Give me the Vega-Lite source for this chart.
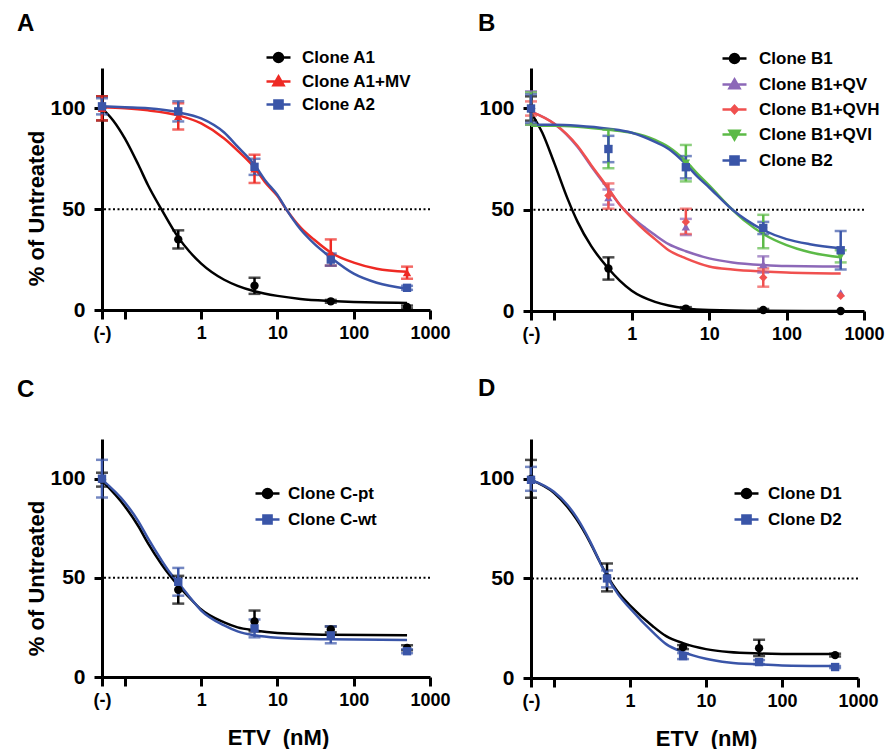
{
  "$schema": "https://vega.github.io/schema/vega-lite/v6.json",
  "background": "white",
  "padding": {"left": 17, "top": 12, "right": 0, "bottom": 0},
  "config": {
    "font": "Liberation Sans",
    "view": {"stroke": null},
    "axis": {"domainColor": "black", "domainWidth": 3, "tickColor": "black", "tickWidth": 3, "labelColor": "black", "labelFontWeight": "bold", "titleFontWeight": "bold", "titleColor": "black", "grid": false, "labelFont": "Liberation Sans", "titleFont": "Liberation Sans"},
    "title": {"font": "Liberation Sans", "fontWeight": "bold", "fontSize": 24, "color": "black", "anchor": "start", "frame": "group"}
  },
  "resolve": {"scale": {"color": "independent", "shape": "independent", "size": "independent", "fill": "independent", "stroke": "independent"}, "legend": {"color": "independent", "shape": "independent", "size": "independent", "fill": "independent", "stroke": "independent"}},
  "datasets": {
    "A_pts": [
      {"series": "Clone A1", "conc": 0.05, "pct": 100, "lo": 94, "hi": 106},
      {"series": "Clone A1", "conc": 0.5, "pct": 35, "lo": 30.5, "hi": 39.5},
      {"series": "Clone A1", "conc": 5, "pct": 12, "lo": 8, "hi": 16},
      {"series": "Clone A1", "conc": 50, "pct": 4.3, "lo": 3.6, "hi": 5},
      {"series": "Clone A1", "conc": 500, "pct": 1.5, "lo": 0.8, "hi": 2.2},
      {"series": "Clone A1+MV", "conc": 0.05, "pct": 100, "lo": 94, "hi": 106},
      {"series": "Clone A1+MV", "conc": 0.5, "pct": 96, "lo": 89.5, "hi": 102.5},
      {"series": "Clone A1+MV", "conc": 5, "pct": 70, "lo": 63, "hi": 77},
      {"series": "Clone A1+MV", "conc": 50, "pct": 28.5, "lo": 22, "hi": 35},
      {"series": "Clone A1+MV", "conc": 500, "pct": 18.5, "lo": 15.5, "hi": 21.5},
      {"series": "Clone A2", "conc": 0.05, "pct": 101, "lo": 97, "hi": 105},
      {"series": "Clone A2", "conc": 0.5, "pct": 98.5, "lo": 93.5, "hi": 103.5},
      {"series": "Clone A2", "conc": 5, "pct": 71, "lo": 67, "hi": 75},
      {"series": "Clone A2", "conc": 50, "pct": 25, "lo": 22, "hi": 28},
      {"series": "Clone A2", "conc": 500, "pct": 11, "lo": 10, "hi": 12}
    ],
    "A_fit": [
      {"series": "Clone A1", "conc": 0.05, "pct": 100},
      {"series": "Clone A1", "conc": 0.07, "pct": 94},
      {"series": "Clone A1", "conc": 0.1, "pct": 85},
      {"series": "Clone A1", "conc": 0.15, "pct": 72},
      {"series": "Clone A1", "conc": 0.2, "pct": 62},
      {"series": "Clone A1", "conc": 0.3, "pct": 50},
      {"series": "Clone A1", "conc": 0.5, "pct": 36},
      {"series": "Clone A1", "conc": 0.7, "pct": 29},
      {"series": "Clone A1", "conc": 1, "pct": 23},
      {"series": "Clone A1", "conc": 2, "pct": 15},
      {"series": "Clone A1", "conc": 3, "pct": 12},
      {"series": "Clone A1", "conc": 5, "pct": 9.3},
      {"series": "Clone A1", "conc": 10, "pct": 7},
      {"series": "Clone A1", "conc": 20, "pct": 5.5},
      {"series": "Clone A1", "conc": 50, "pct": 4.5},
      {"series": "Clone A1", "conc": 100, "pct": 4},
      {"series": "Clone A1", "conc": 200, "pct": 3.7},
      {"series": "Clone A1", "conc": 500, "pct": 3.5},
      {"series": "Clone A1+MV", "conc": 0.05, "pct": 100.5},
      {"series": "Clone A1+MV", "conc": 0.1, "pct": 100},
      {"series": "Clone A1+MV", "conc": 0.2, "pct": 99},
      {"series": "Clone A1+MV", "conc": 0.5, "pct": 96.5},
      {"series": "Clone A1+MV", "conc": 1, "pct": 92.5},
      {"series": "Clone A1+MV", "conc": 2, "pct": 85},
      {"series": "Clone A1+MV", "conc": 3, "pct": 79},
      {"series": "Clone A1+MV", "conc": 5, "pct": 70.5},
      {"series": "Clone A1+MV", "conc": 7, "pct": 63},
      {"series": "Clone A1+MV", "conc": 10, "pct": 56.5},
      {"series": "Clone A1+MV", "conc": 13, "pct": 50},
      {"series": "Clone A1+MV", "conc": 20, "pct": 41},
      {"series": "Clone A1+MV", "conc": 30, "pct": 35},
      {"series": "Clone A1+MV", "conc": 50, "pct": 28.5},
      {"series": "Clone A1+MV", "conc": 100, "pct": 23.5},
      {"series": "Clone A1+MV", "conc": 200, "pct": 20.5},
      {"series": "Clone A1+MV", "conc": 500, "pct": 19},
      {"series": "Clone A2", "conc": 0.05, "pct": 101},
      {"series": "Clone A2", "conc": 0.1, "pct": 100.5},
      {"series": "Clone A2", "conc": 0.2, "pct": 100},
      {"series": "Clone A2", "conc": 0.5, "pct": 98},
      {"series": "Clone A2", "conc": 1, "pct": 95},
      {"series": "Clone A2", "conc": 2, "pct": 88},
      {"series": "Clone A2", "conc": 3, "pct": 81},
      {"series": "Clone A2", "conc": 5, "pct": 72},
      {"series": "Clone A2", "conc": 7, "pct": 64},
      {"series": "Clone A2", "conc": 10, "pct": 57},
      {"series": "Clone A2", "conc": 13, "pct": 50},
      {"series": "Clone A2", "conc": 20, "pct": 40},
      {"series": "Clone A2", "conc": 30, "pct": 33},
      {"series": "Clone A2", "conc": 50, "pct": 26},
      {"series": "Clone A2", "conc": 100, "pct": 18},
      {"series": "Clone A2", "conc": 200, "pct": 13.5},
      {"series": "Clone A2", "conc": 500, "pct": 10.5}
    ],
    "B_pts": [
      {"series": "Clone B1", "conc": 0.05, "pct": 100, "lo": 94, "hi": 106},
      {"series": "Clone B1", "conc": 0.5, "pct": 21, "lo": 15.5, "hi": 26.5},
      {"series": "Clone B1", "conc": 5, "pct": 1.2, "lo": 0.5, "hi": 1.9},
      {"series": "Clone B1", "conc": 50, "pct": 0.5, "lo": 0, "hi": 1},
      {"series": "Clone B1", "conc": 500, "pct": 0, "lo": null, "hi": null},
      {"series": "Clone B1+QV", "conc": 0.05, "pct": 100, "lo": 92, "hi": 108.5},
      {"series": "Clone B1+QV", "conc": 0.5, "pct": 56, "lo": 52.5, "hi": 60},
      {"series": "Clone B1+QV", "conc": 5, "pct": 41.5, "lo": 37.5, "hi": 45.5},
      {"series": "Clone B1+QV", "conc": 50, "pct": 23, "lo": 19, "hi": 27},
      {"series": "Clone B1+QV", "conc": 500, "pct": 9, "lo": null, "hi": null},
      {"series": "Clone B1+QVH", "conc": 0.05, "pct": 100, "lo": 96.5, "hi": 103.5},
      {"series": "Clone B1+QVH", "conc": 0.5, "pct": 57, "lo": 50.5, "hi": 63},
      {"series": "Clone B1+QVH", "conc": 5, "pct": 44, "lo": 38, "hi": 50.5},
      {"series": "Clone B1+QVH", "conc": 50, "pct": 16.5, "lo": 12, "hi": 21},
      {"series": "Clone B1+QVH", "conc": 500, "pct": 7.5, "lo": null, "hi": null},
      {"series": "Clone B1+QVI", "conc": 0.05, "pct": 100, "lo": 92, "hi": 108},
      {"series": "Clone B1+QVI", "conc": 0.5, "pct": 80, "lo": 70.5, "hi": 89.5},
      {"series": "Clone B1+QVI", "conc": 5, "pct": 73, "lo": 64, "hi": 82},
      {"series": "Clone B1+QVI", "conc": 50, "pct": 39.5, "lo": 31, "hi": 47.5},
      {"series": "Clone B1+QVI", "conc": 500, "pct": 27, "lo": 24, "hi": 30},
      {"series": "Clone B2", "conc": 0.05, "pct": 100, "lo": 93, "hi": 107},
      {"series": "Clone B2", "conc": 0.5, "pct": 80, "lo": 73.5, "hi": 86.5},
      {"series": "Clone B2", "conc": 5, "pct": 71, "lo": 65.5, "hi": 76.5},
      {"series": "Clone B2", "conc": 50, "pct": 41, "lo": 38, "hi": 44},
      {"series": "Clone B2", "conc": 500, "pct": 30, "lo": 20.5, "hi": 39.5}
    ],
    "B_fit": [
      {"series": "Clone B1", "conc": 0.05, "pct": 98},
      {"series": "Clone B1", "conc": 0.07, "pct": 88},
      {"series": "Clone B1", "conc": 0.1, "pct": 73},
      {"series": "Clone B1", "conc": 0.15, "pct": 55},
      {"series": "Clone B1", "conc": 0.2, "pct": 44},
      {"series": "Clone B1", "conc": 0.3, "pct": 32},
      {"series": "Clone B1", "conc": 0.5, "pct": 21},
      {"series": "Clone B1", "conc": 0.7, "pct": 15},
      {"series": "Clone B1", "conc": 1, "pct": 10},
      {"series": "Clone B1", "conc": 2, "pct": 4.5},
      {"series": "Clone B1", "conc": 3, "pct": 2.7},
      {"series": "Clone B1", "conc": 5, "pct": 1.3},
      {"series": "Clone B1", "conc": 10, "pct": 0.5},
      {"series": "Clone B1", "conc": 50, "pct": 0.1},
      {"series": "Clone B1", "conc": 500, "pct": 0},
      {"series": "Clone B1+QV", "conc": 0.05, "pct": 98.5},
      {"series": "Clone B1+QV", "conc": 0.1, "pct": 92.5},
      {"series": "Clone B1+QV", "conc": 0.2, "pct": 81},
      {"series": "Clone B1+QV", "conc": 0.3, "pct": 71.5},
      {"series": "Clone B1+QV", "conc": 0.5, "pct": 60},
      {"series": "Clone B1+QV", "conc": 0.7, "pct": 52.5},
      {"series": "Clone B1+QV", "conc": 1, "pct": 46.5},
      {"series": "Clone B1+QV", "conc": 1.5, "pct": 41},
      {"series": "Clone B1+QV", "conc": 2, "pct": 37.5},
      {"series": "Clone B1+QV", "conc": 3, "pct": 33},
      {"series": "Clone B1+QV", "conc": 5, "pct": 29.5},
      {"series": "Clone B1+QV", "conc": 10, "pct": 26},
      {"series": "Clone B1+QV", "conc": 20, "pct": 24},
      {"series": "Clone B1+QV", "conc": 50, "pct": 22.7},
      {"series": "Clone B1+QV", "conc": 100, "pct": 22.2},
      {"series": "Clone B1+QV", "conc": 500, "pct": 22},
      {"series": "Clone B1+QVH", "conc": 0.05, "pct": 98.5},
      {"series": "Clone B1+QVH", "conc": 0.1, "pct": 92.5},
      {"series": "Clone B1+QVH", "conc": 0.2, "pct": 81.5},
      {"series": "Clone B1+QVH", "conc": 0.3, "pct": 72},
      {"series": "Clone B1+QVH", "conc": 0.5, "pct": 60.5},
      {"series": "Clone B1+QVH", "conc": 0.7, "pct": 52.5},
      {"series": "Clone B1+QVH", "conc": 1, "pct": 46},
      {"series": "Clone B1+QVH", "conc": 1.5, "pct": 39.5},
      {"series": "Clone B1+QVH", "conc": 2, "pct": 35.5},
      {"series": "Clone B1+QVH", "conc": 3, "pct": 30},
      {"series": "Clone B1+QVH", "conc": 5, "pct": 26},
      {"series": "Clone B1+QVH", "conc": 10, "pct": 22},
      {"series": "Clone B1+QVH", "conc": 20, "pct": 20.5},
      {"series": "Clone B1+QVH", "conc": 50, "pct": 19.5},
      {"series": "Clone B1+QVH", "conc": 100, "pct": 19},
      {"series": "Clone B1+QVH", "conc": 500, "pct": 18.5},
      {"series": "Clone B1+QVI", "conc": 0.05, "pct": 91.5},
      {"series": "Clone B1+QVI", "conc": 0.1, "pct": 91.5},
      {"series": "Clone B1+QVI", "conc": 0.2, "pct": 91},
      {"series": "Clone B1+QVI", "conc": 0.5, "pct": 89.5},
      {"series": "Clone B1+QVI", "conc": 1, "pct": 88},
      {"series": "Clone B1+QVI", "conc": 2, "pct": 84.5},
      {"series": "Clone B1+QVI", "conc": 3, "pct": 81},
      {"series": "Clone B1+QVI", "conc": 5, "pct": 74},
      {"series": "Clone B1+QVI", "conc": 7, "pct": 68},
      {"series": "Clone B1+QVI", "conc": 10, "pct": 62},
      {"series": "Clone B1+QVI", "conc": 20, "pct": 50},
      {"series": "Clone B1+QVI", "conc": 30, "pct": 44},
      {"series": "Clone B1+QVI", "conc": 50, "pct": 38},
      {"series": "Clone B1+QVI", "conc": 100, "pct": 32.5},
      {"series": "Clone B1+QVI", "conc": 200, "pct": 29},
      {"series": "Clone B1+QVI", "conc": 500, "pct": 26.5},
      {"series": "Clone B2", "conc": 0.05, "pct": 92},
      {"series": "Clone B2", "conc": 0.1, "pct": 92},
      {"series": "Clone B2", "conc": 0.2, "pct": 91.5},
      {"series": "Clone B2", "conc": 0.5, "pct": 90},
      {"series": "Clone B2", "conc": 1, "pct": 88},
      {"series": "Clone B2", "conc": 2, "pct": 83.5},
      {"series": "Clone B2", "conc": 3, "pct": 80},
      {"series": "Clone B2", "conc": 5, "pct": 72.5},
      {"series": "Clone B2", "conc": 7, "pct": 66.5},
      {"series": "Clone B2", "conc": 10, "pct": 61},
      {"series": "Clone B2", "conc": 20, "pct": 50},
      {"series": "Clone B2", "conc": 30, "pct": 45},
      {"series": "Clone B2", "conc": 50, "pct": 40},
      {"series": "Clone B2", "conc": 100, "pct": 35.5},
      {"series": "Clone B2", "conc": 200, "pct": 33},
      {"series": "Clone B2", "conc": 500, "pct": 31}
    ],
    "C_pts": [
      {"series": "Clone C-pt", "conc": 0.05, "pct": 99.5, "lo": 96, "hi": 103},
      {"series": "Clone C-pt", "conc": 0.5, "pct": 44, "lo": 37, "hi": 51},
      {"series": "Clone C-pt", "conc": 5, "pct": 28, "lo": 23, "hi": 33.5},
      {"series": "Clone C-pt", "conc": 50, "pct": 24, "lo": 22.5, "hi": 25.5},
      {"series": "Clone C-pt", "conc": 500, "pct": 14.7, "lo": 13.5, "hi": 16},
      {"series": "Clone C-wt", "conc": 0.05, "pct": 100, "lo": 90.5, "hi": 109.5},
      {"series": "Clone C-wt", "conc": 0.5, "pct": 48, "lo": 41, "hi": 55},
      {"series": "Clone C-wt", "conc": 5, "pct": 24.5, "lo": 20, "hi": 29},
      {"series": "Clone C-wt", "conc": 50, "pct": 21, "lo": 17, "hi": 25.5},
      {"series": "Clone C-wt", "conc": 500, "pct": 13, "lo": 12, "hi": 14}
    ],
    "C_fit": [
      {"series": "Clone C-pt", "conc": 0.05, "pct": 99},
      {"series": "Clone C-pt", "conc": 0.1, "pct": 86},
      {"series": "Clone C-pt", "conc": 0.15, "pct": 76},
      {"series": "Clone C-pt", "conc": 0.2, "pct": 67.5},
      {"series": "Clone C-pt", "conc": 0.3, "pct": 57},
      {"series": "Clone C-pt", "conc": 0.4, "pct": 50.5},
      {"series": "Clone C-pt", "conc": 0.5, "pct": 46},
      {"series": "Clone C-pt", "conc": 0.7, "pct": 40},
      {"series": "Clone C-pt", "conc": 1, "pct": 34},
      {"series": "Clone C-pt", "conc": 2, "pct": 27.5},
      {"series": "Clone C-pt", "conc": 3, "pct": 25},
      {"series": "Clone C-pt", "conc": 5, "pct": 23.5},
      {"series": "Clone C-pt", "conc": 10, "pct": 22.2},
      {"series": "Clone C-pt", "conc": 50, "pct": 21.3},
      {"series": "Clone C-pt", "conc": 500, "pct": 21},
      {"series": "Clone C-wt", "conc": 0.05, "pct": 99.5},
      {"series": "Clone C-wt", "conc": 0.1, "pct": 88},
      {"series": "Clone C-wt", "conc": 0.15, "pct": 78.5},
      {"series": "Clone C-wt", "conc": 0.2, "pct": 70},
      {"series": "Clone C-wt", "conc": 0.3, "pct": 59},
      {"series": "Clone C-wt", "conc": 0.4, "pct": 52},
      {"series": "Clone C-wt", "conc": 0.5, "pct": 47.5},
      {"series": "Clone C-wt", "conc": 0.7, "pct": 40.5},
      {"series": "Clone C-wt", "conc": 1, "pct": 33.5},
      {"series": "Clone C-wt", "conc": 2, "pct": 26},
      {"series": "Clone C-wt", "conc": 3, "pct": 23},
      {"series": "Clone C-wt", "conc": 5, "pct": 21},
      {"series": "Clone C-wt", "conc": 10, "pct": 19.8},
      {"series": "Clone C-wt", "conc": 50, "pct": 19},
      {"series": "Clone C-wt", "conc": 500, "pct": 18.7}
    ],
    "D_pts": [
      {"series": "Clone D1", "conc": 0.05, "pct": 100, "lo": 90.5, "hi": 109.5},
      {"series": "Clone D1", "conc": 0.5, "pct": 50.5, "lo": 43.5, "hi": 57.5},
      {"series": "Clone D1", "conc": 5, "pct": 15.5, "lo": 14.5, "hi": 16.5},
      {"series": "Clone D1", "conc": 50, "pct": 15, "lo": 11, "hi": 19.2},
      {"series": "Clone D1", "conc": 500, "pct": 11.5, "lo": 10.8, "hi": 12.2},
      {"series": "Clone D2", "conc": 0.05, "pct": 99.5, "lo": 94, "hi": 106},
      {"series": "Clone D2", "conc": 0.5, "pct": 50, "lo": 45.5, "hi": 54},
      {"series": "Clone D2", "conc": 5, "pct": 11, "lo": 9.5, "hi": 12.5},
      {"series": "Clone D2", "conc": 50, "pct": 8, "lo": 7, "hi": 9},
      {"series": "Clone D2", "conc": 500, "pct": 5.5, "lo": 5, "hi": 6}
    ],
    "D_fit": [
      {"series": "Clone D1", "conc": 0.05, "pct": 99.5},
      {"series": "Clone D1", "conc": 0.1, "pct": 93},
      {"series": "Clone D1", "conc": 0.15, "pct": 86},
      {"series": "Clone D1", "conc": 0.2, "pct": 79.5},
      {"series": "Clone D1", "conc": 0.3, "pct": 68},
      {"series": "Clone D1", "conc": 0.4, "pct": 58.5},
      {"series": "Clone D1", "conc": 0.5, "pct": 51.5},
      {"series": "Clone D1", "conc": 0.7, "pct": 43},
      {"series": "Clone D1", "conc": 1, "pct": 36.5},
      {"series": "Clone D1", "conc": 2, "pct": 26},
      {"series": "Clone D1", "conc": 3, "pct": 21},
      {"series": "Clone D1", "conc": 5, "pct": 17.5},
      {"series": "Clone D1", "conc": 10, "pct": 14.5},
      {"series": "Clone D1", "conc": 20, "pct": 13},
      {"series": "Clone D1", "conc": 50, "pct": 12.3},
      {"series": "Clone D1", "conc": 100, "pct": 12.1},
      {"series": "Clone D1", "conc": 500, "pct": 12},
      {"series": "Clone D2", "conc": 0.05, "pct": 99.5},
      {"series": "Clone D2", "conc": 0.1, "pct": 93.5},
      {"series": "Clone D2", "conc": 0.15, "pct": 87},
      {"series": "Clone D2", "conc": 0.2, "pct": 80.5},
      {"series": "Clone D2", "conc": 0.3, "pct": 68.5},
      {"series": "Clone D2", "conc": 0.4, "pct": 58.5},
      {"series": "Clone D2", "conc": 0.5, "pct": 51},
      {"series": "Clone D2", "conc": 0.7, "pct": 42},
      {"series": "Clone D2", "conc": 1, "pct": 35},
      {"series": "Clone D2", "conc": 2, "pct": 23},
      {"series": "Clone D2", "conc": 3, "pct": 17},
      {"series": "Clone D2", "conc": 5, "pct": 13},
      {"series": "Clone D2", "conc": 10, "pct": 9.7},
      {"series": "Clone D2", "conc": 20, "pct": 7.8},
      {"series": "Clone D2", "conc": 50, "pct": 6.8},
      {"series": "Clone D2", "conc": 100, "pct": 6.3},
      {"series": "Clone D2", "conc": 500, "pct": 6}
    ]
  },
  "columns": 2,
  "bounds": "flush",
  "spacing": {"row": 128, "column": 101},
  "concat": [
    {
      "width": 328, "height": 242,
      "title": {"text": "A", "dx": -85, "offset": 8},
      "resolve": {"scale": {"shape": "independent", "fill": "independent", "stroke": "independent"}},
      "layer": [
        {"data": {"values": [{}]}, "mark": {"type": "rule", "strokeDash": [2, 2.5], "strokeWidth": 2, "color": "black"},
         "encoding": {"y": {"datum": 50, "type": "quantitative", "title": "% of Untreated", "scale": {"domain": [0, 120], "nice": false}, "axis": {"values": [0, 50, 100], "labelFontSize": 21, "tickSize": 8, "labelPadding": 9, "title": "% of Untreated", "titleFontSize": 22, "titleX": -66, "titleY": 140, "titleBaseline": "middle", "titleAlign": "center", "titleAngle": -90}}}},
        {"data": {"name": "A_fit"}, "mark": {"type": "line", "interpolate": "monotone", "strokeWidth": 2.5},
         "encoding": {
           "x": {"field": "conc", "type": "quantitative", "scale": {"type": "log", "domain": [0.05, 1000], "nice": false}, "axis": {"values": [0.05, 0.1, 1, 10, 100, 1000], "labelExpr": "datum.value < 0.07 ? '(-)' : datum.value < 0.5 ? '' : format(datum.value, 'd')", "labelFontSize": 18, "tickSize": 9, "labelPadding": 5, "labelOverlap": false, "labelFlush": false, "title": null}},
           "y": {"field": "pct", "type": "quantitative", "title": "% of Untreated", "scale": {"domain": [0, 120], "nice": false}, "axis": {"values": [0, 50, 100], "labelFontSize": 21, "tickSize": 8, "labelPadding": 9, "title": "% of Untreated", "titleFontSize": 22, "titleX": -66, "titleY": 140, "titleBaseline": "middle", "titleAlign": "center", "titleAngle": -90}},
           "color": {"field": "series", "type": "nominal", "legend": null, "scale": {"domain": ["Clone A1", "Clone A1+MV", "Clone A2"], "range": ["#000000", "#ee2a24", "#3a55a8"]}}
         }},
        {"data": {"name": "A_pts"}, "mark": {"type": "errorbar", "thickness": 2.5, "ticks": {"size": 12, "thickness": 2.5}},
         "encoding": {
           "x": {"field": "conc", "type": "quantitative"},
           "y": {"field": "lo", "type": "quantitative", "title": "% of Untreated"},
           "y2": {"field": "hi"},
           "color": {"field": "series", "type": "nominal", "legend": null}
         }},
        {"data": {"name": "A_pts"}, "mark": {"type": "point", "filled": true, "size": 70, "opacity": 1},
         "encoding": {
           "x": {"field": "conc", "type": "quantitative"},
           "y": {"field": "pct", "type": "quantitative", "title": "% of Untreated"},
           "color": {"field": "series", "type": "nominal", "legend": null},
           "shape": {"field": "series", "type": "nominal", "scale": {"domain": ["Clone A1", "Clone A1+MV", "Clone A2"], "range": ["circle", "triangle-up", "square"]}, "legend": null}
         }},
        {"data": {"name": "A_pts"}, "mark": {"type": "point", "filled": true, "opacity": 0},
         "encoding": {
           "x": {"field": "conc", "type": "quantitative"},
           "y": {"field": "pct", "type": "quantitative", "title": "% of Untreated"},
           "shape": {"field": "series", "type": "nominal", "scale": {"domain": ["Clone A1", "Clone A1+MV", "Clone A2"], "range": ["M-1,0H1M-0.38,0A0.38,0.38,0,1,1,0.38,0A0.38,0.38,0,1,1,-0.38,0Z", "M-1,0H1M0,-0.42L0.42,0.32L-0.42,0.32Z", "M-1,0H1M-0.34,-0.34H0.34V0.34H-0.34Z"]}, "legend": {"title": null, "orient": "none", "legendX": 163, "legendY": -24, "symbolSize": 576, "labelFontSize": 17, "labelFont": "Liberation Sans", "labelFontWeight": "bold", "labelColor": "black", "labelOffset": 10, "rowPadding": 0, "padding": 0, "labelLimit": 0, "symbolStrokeWidth": 2.5, "symbolOpacity": 1}},
           "fill": {"field": "series", "type": "nominal", "scale": {"domain": ["Clone A1", "Clone A1+MV", "Clone A2"], "range": ["#000000", "#ee2a24", "#3a55a8"]}, "legend": {"title": null, "orient": "none", "legendX": 163, "legendY": -24, "symbolSize": 576, "labelFontSize": 17, "labelFont": "Liberation Sans", "labelFontWeight": "bold", "labelColor": "black", "labelOffset": 10, "rowPadding": 0, "padding": 0, "labelLimit": 0, "symbolStrokeWidth": 2.5, "symbolOpacity": 1}},
           "stroke": {"field": "series", "type": "nominal", "scale": {"domain": ["Clone A1", "Clone A1+MV", "Clone A2"], "range": ["#000000", "#ee2a24", "#3a55a8"]}, "legend": {"title": null, "orient": "none", "legendX": 163, "legendY": -24, "symbolSize": 576, "labelFontSize": 17, "labelFont": "Liberation Sans", "labelFontWeight": "bold", "labelColor": "black", "labelOffset": 10, "rowPadding": 0, "padding": 0, "labelLimit": 0, "symbolStrokeWidth": 2.5, "symbolOpacity": 1}}
         }}
      ]
    },
    {
      "width": 333, "height": 243,
      "title": {"text": "B", "dx": -53, "offset": 9},
      "resolve": {"scale": {"shape": "independent", "fill": "independent", "stroke": "independent"}},
      "layer": [
        {"data": {"values": [{}]}, "mark": {"type": "rule", "strokeDash": [2, 2.5], "strokeWidth": 2, "color": "black"},
         "encoding": {"y": {"datum": 50, "type": "quantitative", "scale": {"domain": [0, 120], "nice": false}, "axis": {"values": [0, 50, 100], "labelFontSize": 21, "tickSize": 8, "labelPadding": 9, "title": null}}}},
        {"data": {"name": "B_fit"}, "mark": {"type": "line", "interpolate": "monotone", "strokeWidth": 2.5},
         "encoding": {
           "x": {"field": "conc", "type": "quantitative", "scale": {"type": "log", "domain": [0.05, 1000], "nice": false}, "axis": {"values": [0.05, 0.1, 1, 10, 100, 1000], "labelExpr": "datum.value < 0.07 ? '(-)' : datum.value < 0.5 ? '' : format(datum.value, 'd')", "labelFontSize": 18, "tickSize": 9, "labelPadding": 5, "labelOverlap": false, "labelFlush": false, "title": null}},
           "y": {"field": "pct", "type": "quantitative", "scale": {"domain": [0, 120], "nice": false}, "axis": {"values": [0, 50, 100], "labelFontSize": 21, "tickSize": 8, "labelPadding": 9, "title": null}},
           "color": {"field": "series", "type": "nominal", "legend": null, "scale": {"domain": ["Clone B1", "Clone B1+QV", "Clone B1+QVH", "Clone B1+QVI", "Clone B2"], "range": ["#000000", "#8c68b8", "#f0504f", "#5cba47", "#3a55a8"]}}
         }},
        {"data": {"name": "B_pts"}, "mark": {"type": "errorbar", "thickness": 2.5, "ticks": {"size": 12, "thickness": 2.5}},
         "encoding": {
           "x": {"field": "conc", "type": "quantitative"},
           "y": {"field": "lo", "type": "quantitative"},
           "y2": {"field": "hi"},
           "color": {"field": "series", "type": "nominal", "legend": null}
         }},
        {"data": {"name": "B_pts"}, "mark": {"type": "point", "filled": true, "opacity": 1},
         "encoding": {
           "x": {"field": "conc", "type": "quantitative"},
           "y": {"field": "pct", "type": "quantitative"},
           "size": {"field": "series", "type": "nominal", "scale": {"domain": ["Clone B1", "Clone B1+QV", "Clone B1+QVH", "Clone B1+QVI", "Clone B2"], "range": [70, 70, 40, 70, 70]}, "legend": null},
           "color": {"field": "series", "type": "nominal", "legend": null},
           "shape": {"field": "series", "type": "nominal", "scale": {"domain": ["Clone B1", "Clone B1+QV", "Clone B1+QVH", "Clone B1+QVI", "Clone B2"], "range": ["circle", "triangle-up", "diamond", "triangle-down", "square"]}, "legend": null}
         }},
        {"data": {"name": "B_pts"}, "mark": {"type": "point", "filled": true, "opacity": 0},
         "encoding": {
           "x": {"field": "conc", "type": "quantitative"},
           "y": {"field": "pct", "type": "quantitative"},
           "shape": {"field": "series", "type": "nominal", "scale": {"domain": ["Clone B1", "Clone B1+QV", "Clone B1+QVH", "Clone B1+QVI", "Clone B2"], "range": ["M-1,0H1M-0.38,0A0.38,0.38,0,1,1,0.38,0A0.38,0.38,0,1,1,-0.38,0Z", "M-1,0H1M0,-0.42L0.42,0.32L-0.42,0.32Z", "M-1,0H1M0,-0.3L0.28,0L0,0.3L-0.28,0Z", "M-1,0H1M-0.42,-0.32L0.42,-0.32L0,0.42Z", "M-1,0H1M-0.34,-0.34H0.34V0.34H-0.34Z"]}, "legend": {"title": null, "orient": "none", "legendX": 190, "legendY": -23, "symbolSize": 576, "labelFontSize": 17, "labelFont": "Liberation Sans", "labelFontWeight": "bold", "labelColor": "black", "labelOffset": 11, "rowPadding": 2, "padding": 0, "labelLimit": 0, "symbolStrokeWidth": 2.5, "symbolOpacity": 1}},
           "fill": {"field": "series", "type": "nominal", "scale": {"domain": ["Clone B1", "Clone B1+QV", "Clone B1+QVH", "Clone B1+QVI", "Clone B2"], "range": ["#000000", "#8c68b8", "#f0504f", "#5cba47", "#3a55a8"]}, "legend": {"title": null, "orient": "none", "legendX": 190, "legendY": -23, "symbolSize": 576, "labelFontSize": 17, "labelFont": "Liberation Sans", "labelFontWeight": "bold", "labelColor": "black", "labelOffset": 11, "rowPadding": 2, "padding": 0, "labelLimit": 0, "symbolStrokeWidth": 2.5, "symbolOpacity": 1}},
           "stroke": {"field": "series", "type": "nominal", "scale": {"domain": ["Clone B1", "Clone B1+QV", "Clone B1+QVH", "Clone B1+QVI", "Clone B2"], "range": ["#000000", "#8c68b8", "#f0504f", "#5cba47", "#3a55a8"]}, "legend": {"title": null, "orient": "none", "legendX": 190, "legendY": -23, "symbolSize": 576, "labelFontSize": 17, "labelFont": "Liberation Sans", "labelFontWeight": "bold", "labelColor": "black", "labelOffset": 11, "rowPadding": 2, "padding": 0, "labelLimit": 0, "symbolStrokeWidth": 2.5, "symbolOpacity": 1}}
         }}
      ]
    },
    {
      "width": 328, "height": 238,
      "title": {"text": "C", "dx": -85, "offset": 37},
      "resolve": {"scale": {"shape": "independent", "fill": "independent", "stroke": "independent"}},
      "layer": [
        {"data": {"values": [{}]}, "mark": {"type": "rule", "strokeDash": [2, 2.5], "strokeWidth": 2, "color": "black"},
         "encoding": {"y": {"datum": 50, "type": "quantitative", "title": "% of Untreated", "scale": {"domain": [0, 120], "nice": false}, "axis": {"values": [0, 50, 100], "labelFontSize": 21, "tickSize": 8, "labelPadding": 9, "title": "% of Untreated", "titleFontSize": 22, "titleX": -66, "titleY": 139, "titleBaseline": "middle", "titleAlign": "center", "titleAngle": -90}}}},
        {"data": {"name": "C_fit"}, "mark": {"type": "line", "interpolate": "monotone", "strokeWidth": 2.5},
         "encoding": {
           "x": {"field": "conc", "type": "quantitative", "title": "ETV\u00a0\u00a0(nM)", "scale": {"type": "log", "domain": [0.05, 1000], "nice": false}, "axis": {"values": [0.05, 0.1, 1, 10, 100, 1000], "labelExpr": "datum.value < 0.07 ? '(-)' : datum.value < 0.5 ? '' : format(datum.value, 'd')", "labelFontSize": 18, "tickSize": 9, "labelPadding": 5, "labelOverlap": false, "labelFlush": false, "title": "ETV\u00a0\u00a0(nM)", "titleFontSize": 22, "titlePadding": 18, "titleX": 176, "titleAlign": "center"}},
           "y": {"field": "pct", "type": "quantitative", "title": "% of Untreated", "scale": {"domain": [0, 120], "nice": false}, "axis": {"values": [0, 50, 100], "labelFontSize": 21, "tickSize": 8, "labelPadding": 9, "title": "% of Untreated", "titleFontSize": 22, "titleX": -66, "titleY": 139, "titleBaseline": "middle", "titleAlign": "center", "titleAngle": -90}},
           "color": {"field": "series", "type": "nominal", "legend": null, "scale": {"domain": ["Clone C-pt", "Clone C-wt"], "range": ["#000000", "#3a55a8"]}}
         }},
        {"data": {"name": "C_pts"}, "mark": {"type": "errorbar", "thickness": 2.5, "ticks": {"size": 12, "thickness": 2.5}},
         "encoding": {
           "x": {"field": "conc", "type": "quantitative", "title": "ETV\u00a0\u00a0(nM)"},
           "y": {"field": "lo", "type": "quantitative", "title": "% of Untreated"},
           "y2": {"field": "hi"},
           "color": {"field": "series", "type": "nominal", "legend": null}
         }},
        {"data": {"name": "C_pts"}, "mark": {"type": "point", "filled": true, "size": 70, "opacity": 1},
         "encoding": {
           "x": {"field": "conc", "type": "quantitative", "title": "ETV\u00a0\u00a0(nM)"},
           "y": {"field": "pct", "type": "quantitative", "title": "% of Untreated"},
           "color": {"field": "series", "type": "nominal", "legend": null},
           "shape": {"field": "series", "type": "nominal", "scale": {"domain": ["Clone C-pt", "Clone C-wt"], "range": ["circle", "square"]}, "legend": null}
         }},
        {"data": {"name": "C_pts"}, "mark": {"type": "point", "filled": true, "opacity": 0},
         "encoding": {
           "x": {"field": "conc", "type": "quantitative", "title": "ETV\u00a0\u00a0(nM)"},
           "y": {"field": "pct", "type": "quantitative", "title": "% of Untreated"},
           "shape": {"field": "series", "type": "nominal", "scale": {"domain": ["Clone C-pt", "Clone C-wt"], "range": ["M-1,0H1M-0.38,0A0.38,0.38,0,1,1,0.38,0A0.38,0.38,0,1,1,-0.38,0Z", "M-1,0H1M-0.34,-0.34H0.34V0.34H-0.34Z"]}, "legend": {"title": null, "orient": "none", "legendX": 152, "legendY": 41, "symbolSize": 576, "labelFontSize": 17, "labelFont": "Liberation Sans", "labelFontWeight": "bold", "labelColor": "black", "labelOffset": 7, "rowPadding": 2, "padding": 0, "labelLimit": 0, "symbolStrokeWidth": 2.5, "symbolOpacity": 1}},
           "fill": {"field": "series", "type": "nominal", "scale": {"domain": ["Clone C-pt", "Clone C-wt"], "range": ["#000000", "#3a55a8"]}, "legend": {"title": null, "orient": "none", "legendX": 152, "legendY": 41, "symbolSize": 576, "labelFontSize": 17, "labelFont": "Liberation Sans", "labelFontWeight": "bold", "labelColor": "black", "labelOffset": 7, "rowPadding": 2, "padding": 0, "labelLimit": 0, "symbolStrokeWidth": 2.5, "symbolOpacity": 1}},
           "stroke": {"field": "series", "type": "nominal", "scale": {"domain": ["Clone C-pt", "Clone C-wt"], "range": ["#000000", "#3a55a8"]}, "legend": {"title": null, "orient": "none", "legendX": 152, "legendY": 41, "symbolSize": 576, "labelFontSize": 17, "labelFont": "Liberation Sans", "labelFontWeight": "bold", "labelColor": "black", "labelOffset": 7, "rowPadding": 2, "padding": 0, "labelLimit": 0, "symbolStrokeWidth": 2.5, "symbolOpacity": 1}}
         }}
      ]
    },
    {
      "width": 327, "height": 239,
      "title": {"text": "D", "dx": -53, "offset": 38},
      "resolve": {"scale": {"shape": "independent", "fill": "independent", "stroke": "independent"}},
      "layer": [
        {"data": {"values": [{}]}, "mark": {"type": "rule", "strokeDash": [2, 2.5], "strokeWidth": 2, "color": "black"},
         "encoding": {"y": {"datum": 50, "type": "quantitative", "scale": {"domain": [0, 120], "nice": false}, "axis": {"values": [0, 50, 100], "labelFontSize": 21, "tickSize": 8, "labelPadding": 9, "title": null}}}},
        {"data": {"name": "D_fit"}, "mark": {"type": "line", "interpolate": "monotone", "strokeWidth": 2.5},
         "encoding": {
           "x": {"field": "conc", "type": "quantitative", "title": "ETV\u00a0\u00a0(nM)", "scale": {"type": "log", "domain": [0.05, 1000], "nice": false}, "axis": {"values": [0.05, 0.1, 1, 10, 100, 1000], "labelExpr": "datum.value < 0.07 ? '(-)' : datum.value < 0.5 ? '' : format(datum.value, 'd')", "labelFontSize": 18, "tickSize": 9, "labelPadding": 5, "labelOverlap": false, "labelFlush": false, "title": "ETV\u00a0\u00a0(nM)", "titleFontSize": 22, "titlePadding": 18, "titleX": 175, "titleAlign": "center"}},
           "y": {"field": "pct", "type": "quantitative", "scale": {"domain": [0, 120], "nice": false}, "axis": {"values": [0, 50, 100], "labelFontSize": 21, "tickSize": 8, "labelPadding": 9, "title": null}},
           "color": {"field": "series", "type": "nominal", "legend": null, "scale": {"domain": ["Clone D1", "Clone D2"], "range": ["#000000", "#3a55a8"]}}
         }},
        {"data": {"name": "D_pts"}, "mark": {"type": "errorbar", "thickness": 2.5, "ticks": {"size": 12, "thickness": 2.5}},
         "encoding": {
           "x": {"field": "conc", "type": "quantitative", "title": "ETV\u00a0\u00a0(nM)"},
           "y": {"field": "lo", "type": "quantitative"},
           "y2": {"field": "hi"},
           "color": {"field": "series", "type": "nominal", "legend": null}
         }},
        {"data": {"name": "D_pts"}, "mark": {"type": "point", "filled": true, "size": 70, "opacity": 1},
         "encoding": {
           "x": {"field": "conc", "type": "quantitative", "title": "ETV\u00a0\u00a0(nM)"},
           "y": {"field": "pct", "type": "quantitative"},
           "color": {"field": "series", "type": "nominal", "legend": null},
           "shape": {"field": "series", "type": "nominal", "scale": {"domain": ["Clone D1", "Clone D2"], "range": ["circle", "square"]}, "legend": null}
         }},
        {"data": {"name": "D_pts"}, "mark": {"type": "point", "filled": true, "opacity": 0},
         "encoding": {
           "x": {"field": "conc", "type": "quantitative", "title": "ETV\u00a0\u00a0(nM)"},
           "y": {"field": "pct", "type": "quantitative"},
           "shape": {"field": "series", "type": "nominal", "scale": {"domain": ["Clone D1", "Clone D2"], "range": ["M-1,0H1M-0.38,0A0.38,0.38,0,1,1,0.38,0A0.38,0.38,0,1,1,-0.38,0Z", "M-1,0H1M-0.34,-0.34H0.34V0.34H-0.34Z"]}, "legend": {"title": null, "orient": "none", "legendX": 202, "legendY": 41, "symbolSize": 576, "labelFontSize": 17, "labelFont": "Liberation Sans", "labelFontWeight": "bold", "labelColor": "black", "labelOffset": 8, "rowPadding": 2, "padding": 0, "labelLimit": 0, "symbolStrokeWidth": 2.5, "symbolOpacity": 1}},
           "fill": {"field": "series", "type": "nominal", "scale": {"domain": ["Clone D1", "Clone D2"], "range": ["#000000", "#3a55a8"]}, "legend": {"title": null, "orient": "none", "legendX": 202, "legendY": 41, "symbolSize": 576, "labelFontSize": 17, "labelFont": "Liberation Sans", "labelFontWeight": "bold", "labelColor": "black", "labelOffset": 8, "rowPadding": 2, "padding": 0, "labelLimit": 0, "symbolStrokeWidth": 2.5, "symbolOpacity": 1}},
           "stroke": {"field": "series", "type": "nominal", "scale": {"domain": ["Clone D1", "Clone D2"], "range": ["#000000", "#3a55a8"]}, "legend": {"title": null, "orient": "none", "legendX": 202, "legendY": 41, "symbolSize": 576, "labelFontSize": 17, "labelFont": "Liberation Sans", "labelFontWeight": "bold", "labelColor": "black", "labelOffset": 8, "rowPadding": 2, "padding": 0, "labelLimit": 0, "symbolStrokeWidth": 2.5, "symbolOpacity": 1}}
         }}
      ]
    }
  ]
}
